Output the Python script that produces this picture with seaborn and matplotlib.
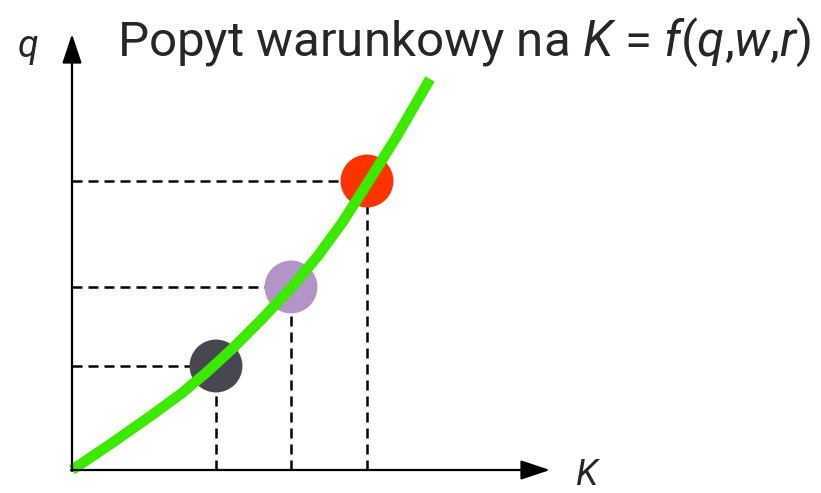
import matplotlib
matplotlib.use("Agg")
import matplotlib.pyplot as plt
import seaborn as sns
import pandas as pd

# Conditional demand curve for capital K as output q rises
curve_K = [0, 40, 80, 110, 135, 160, 190, 219, 245, 270, 295, 325, 358]
curve_q = [0, 27, 55, 77, 98, 121, 151, 182, 213, 247, 286, 334, 391]

# Three output levels and the matching capital demand
point_K = [144, 219, 295]
point_q = [104, 183, 289]
point_colors = ["#474752", "#b294c8", "#ff3300"]

title_text = "Popyt warunkowy na $K$ = $f$($q$,$w$,$r$)"
x_label = "K"
y_label = "q"

sns.set_style("white")
plt.rcParams["font.family"] = ["Roboto", "DejaVu Sans"]
plt.rcParams["mathtext.fontset"] = "custom"
plt.rcParams["mathtext.rm"] = "Roboto"
plt.rcParams["mathtext.it"] = "Roboto:italic"

fig = plt.figure(figsize=(8.21, 4.93), dpi=100)
ax = fig.add_axes([0, 0, 1, 1])
ax.set_xlim(-72, 749)
ax.set_ylim(-23, 470)
ax.axis("off")

curve = pd.DataFrame({"K": curve_K, "q": curve_q})
points = pd.DataFrame({"K": point_K, "q": point_q, "level": ["a", "b", "c"]})

# Guide lines from each point to both axes
ax.hlines(point_q, 0, point_K, colors="black", linewidth=1.8,
          linestyles=(0, (4, 2.4)), zorder=2)
ax.vlines(point_K, 0, point_q, colors="black", linewidth=1.8,
          linestyles=(0, (4, 2.4)), zorder=2)

sns.scatterplot(data=points, x="K", y="q", hue="level", palette=point_colors,
                s=1450, edgecolor="none", legend=False, ax=ax, zorder=3)

sns.lineplot(data=curve, x="K", y="q", color="#3cea00", linewidth=7.6,
             sort=False, ax=ax, zorder=4, solid_capstyle="butt",
             solid_joinstyle="round")

# Axes with arrowheads
arrow = dict(arrowstyle="-|>,head_length=0.9,head_width=0.3",
             color="black", linewidth=1.6, mutation_scale=20,
             shrinkA=0, shrinkB=0)
ax.annotate("", xy=(0, 436), xytext=(0, -1), arrowprops=arrow, zorder=5)
ax.annotate("", xy=(478, 0), xytext=(-1, 0), arrowprops=arrow, zorder=5)

ax.text(-44, 413, y_label, fontsize=27, style="italic", ha="center",
        va="baseline")
ax.text(515, -15, x_label, fontsize=26, style="italic", ha="center",
        va="baseline")

title = ax.text(45, 414, title_text, fontsize=36, ha="left", va="baseline")

# Fit the title between its left edge and the right margin
renderer = fig.canvas.get_renderer()
width = title.get_window_extent(renderer).width
target = 812 - 117
title.set_fontsize(36 * target / width)

ax.set_xlabel("")
ax.set_ylabel("")
fig.savefig("out.png", dpi=100)
